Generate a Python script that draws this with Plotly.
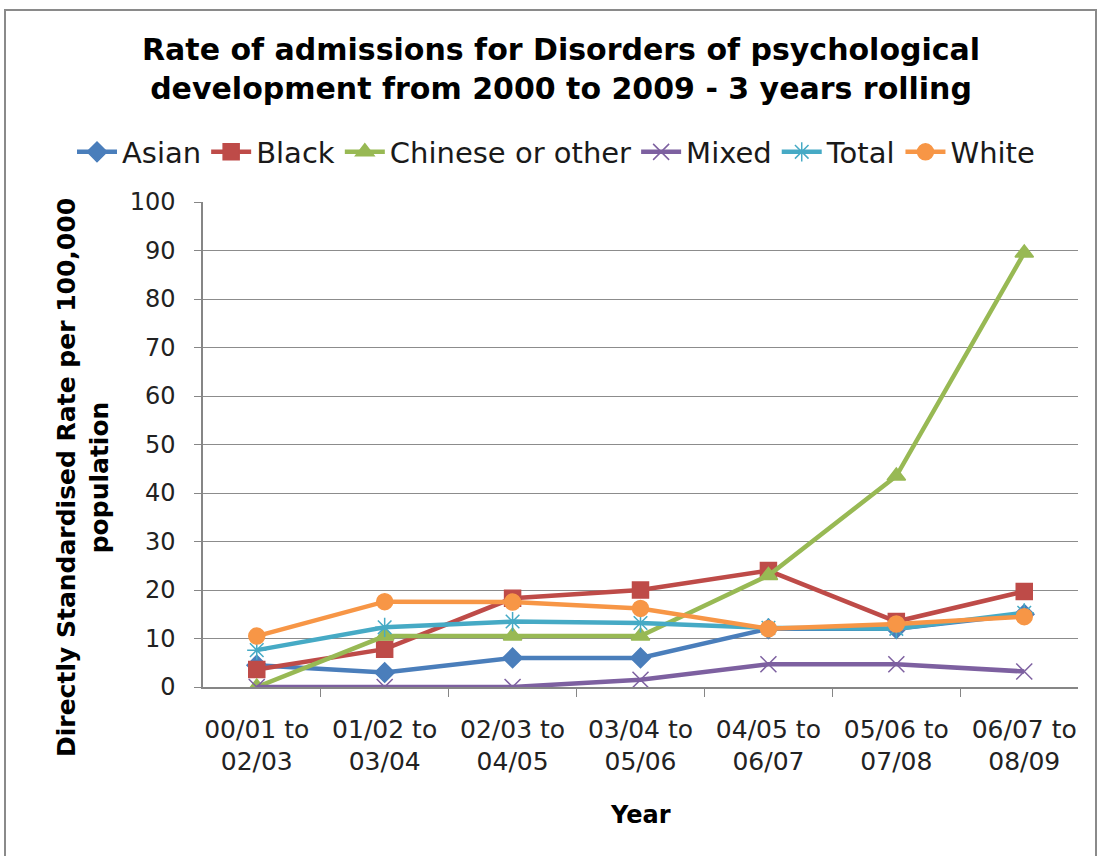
import plotly.graph_objects as go

periods = ["00/01 to<br>02/03", "01/02 to<br>03/04", "02/03 to<br>04/05", "03/04 to<br>05/06",
           "04/05 to<br>06/07", "05/06 to<br>07/08", "06/07 to<br>08/09"]

asian = [4.5, 3.0, 6.0, 6.0, 12.0, 12.0, 15.0]
black = [3.6, 7.8, 18.3, 20.0, 24.0, 13.5, 19.7]
chinese_other = [0.0, 10.5, 10.5, 10.5, 23.0, 43.5, 89.5]
mixed = [0.0, 0.0, 0.0, 1.5, 4.7, 4.7, 3.2]
total = [7.6, 12.3, 13.5, 13.2, 12.2, 12.0, 15.3]
white = [10.5, 17.6, 17.5, 16.2, 12.0, 13.0, 14.5]

series = [
    ("Asian", asian, "#4A7EBB", "diamond", 15),
    ("Black", black, "#BE4B48", "square", 16),
    ("Chinese or other", chinese_other, "#98B954", "triangle-up", 16),
    ("Mixed", mixed, "#7D60A0", "x-thin", 16),
    ("Total", total, "#46AAC5", "asterisk", 16),
    ("White", white, "#F79646", "circle", 16),
]

font = "DejaVu Sans, Verdana, sans-serif"
W, H = 1098, 856
L, R, T, B = 203, 20, 202, 169
pw, ph = W - L - R, H - T - B


def px_x(x):
    return (x - L) / pw


def px_y(y):
    return (H - B - y) / ph


fig = go.Figure()
for name, vals, color, sym, size in series:
    fig.add_trace(go.Scatter(
        x=periods, y=vals, name=name, mode="lines+markers",
        line=dict(color=color, width=4.5),
        marker=dict(symbol=sym, size=size, color=color,
                    line=dict(color=color, width=1.5)),
    ))

fig.update_layout(
    width=W, height=H,
    margin=dict(l=L, r=R, t=T, b=B, autoexpand=False),
    paper_bgcolor="white", plot_bgcolor="white",
    font=dict(family=font, size=24, color="#1a1a1a"),
    showlegend=True,
    legend=dict(orientation="h", x=px_x(72), xanchor="left", y=px_y(152), yanchor="middle",
                font=dict(size=29, color="#1a1a1a"), itemwidth=40,
                bgcolor="rgba(0,0,0,0)"),
    xaxis=dict(type="category", tickson="boundaries", ticks="outside", ticklen=8,
               tickcolor="#868686", showline=True, linecolor="#868686", linewidth=1.5,
               showgrid=False, tickfont=dict(size=25, color="#222"),
               ticklabelstandoff=19),
    yaxis=dict(range=[0, 100], dtick=10, ticks="outside", ticklen=7,
               tickcolor="#868686", showline=True, linecolor="#868686", linewidth=1.5,
               showgrid=True, gridcolor="#8c8c8c", gridwidth=1.2, zeroline=False,
               tickfont=dict(size=24, color="#222"), ticklabelstandoff=14),
)

# title
fig.add_annotation(
    text="<b>Rate of admissions for Disorders of psychological<br>development from 2000 to 2009 - 3 years rolling</b>",
    xref="paper", yref="paper", x=px_x(561), y=px_y(69), xanchor="center", yanchor="middle",
    showarrow=False, font=dict(size=30, family=font, color="black"))

# axis titles
fig.add_annotation(
    text="<b>Directly Standardised Rate per 100,000<br>population</b>",
    xref="paper", yref="paper", x=px_x(83), y=px_y(478), xanchor="center", yanchor="middle",
    textangle=-90, showarrow=False, font=dict(size=25, family=font, color="black"))
fig.add_annotation(
    text="<b>Year</b>", xref="paper", yref="paper", x=px_x(640), y=px_y(815),
    xanchor="center", yanchor="middle", showarrow=False,
    font=dict(size=24, family=font, color="black"))

# outer frame of the chart area
fig.add_shape(type="rect", xref="paper", yref="paper",
              x0=px_x(5), x1=px_x(1096), y0=px_y(862), y1=px_y(10),
              line=dict(color="#8a8a8a", width=2), fillcolor="rgba(0,0,0,0)", layer="below")

fig.write_html("out.html")
